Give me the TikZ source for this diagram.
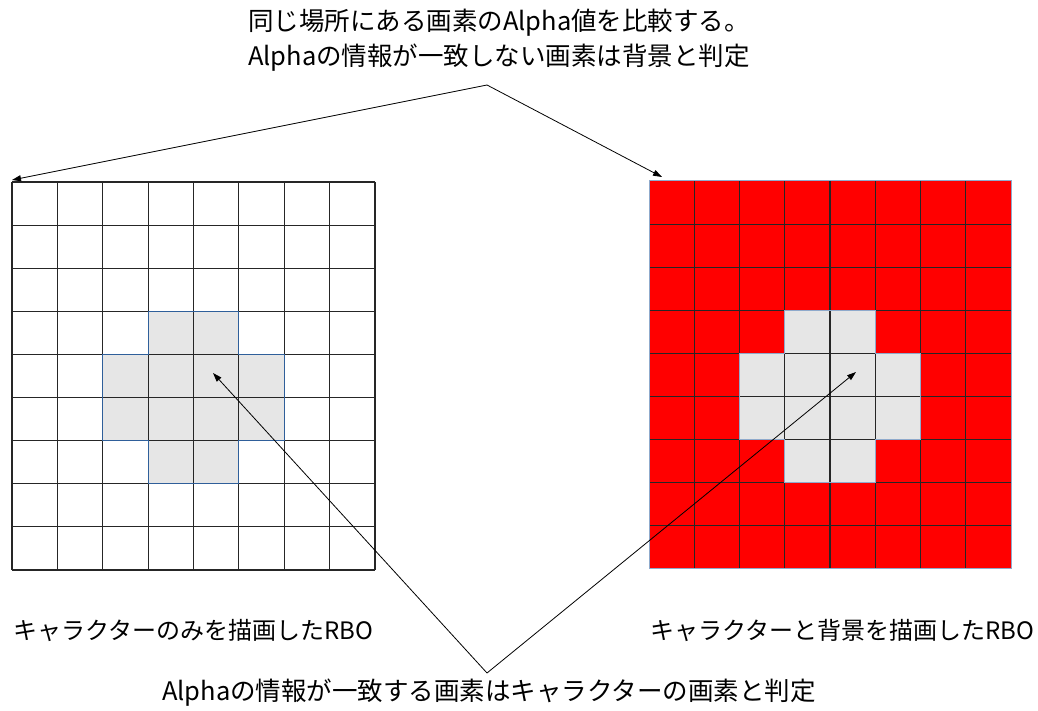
\documentclass[tikz,border=0pt]{standalone}
\usepackage{fontspec}
\setmainfont{Noto Sans CJK JP}
\usetikzlibrary{arrows.meta}
\definecolor{crossgray}{HTML}{E6E6E6}
\definecolor{crossblue}{HTML}{2F5F9A}
\definecolor{lightblue}{HTML}{8FAACC}
\definecolor{pixred}{HTML}{FF0000}
\begin{document}
\begin{tikzpicture}[x=1pt,y=-1pt,
  lbl/.style={font=\fontsize{25.5}{35}\selectfont, inner sep=0pt, align=center},
  sidelbl/.style={font=\fontsize{24}{30}\selectfont, inner sep=0pt},
  conn/.style={draw=black, line width=0.8pt, -{Triangle[length=9pt,width=6pt]}},
  gridline/.style={draw=black!85, line width=1.1pt},
  crossfill/.style={fill=crossgray},
  crosspath/.style={line width=1pt}]
\useasboundingbox (0,0) rectangle (1038,711);

% left grid: character only
\begin{scope}[shift={(12,182)}, x=45.375pt, y=-43.11pt]
  \fill[crossfill] (3,3) -- (5,3) -- (5,4) -- (6,4) -- (6,6) -- (5,6) -- (5,7) -- (3,7) -- (3,6) -- (2,6) -- (2,4) -- (3,4) -- cycle;
  \foreach \i in {0,...,8} \draw[gridline] (\i,0) -- (\i,9);
  \foreach \j in {0,...,9} \draw[gridline] (0,\j) -- (8,\j);
  \draw[crosspath, draw=crossblue] (3,3) -- (5,3) -- (5,4) -- (6,4) -- (6,6) -- (5,6) -- (5,7) -- (3,7) -- (3,6) -- (2,6) -- (2,4) -- (3,4) -- cycle;
\end{scope}

% right grid: character and background
\begin{scope}[shift={(649,181)}, x=45.25pt, y=-43.1pt]
  \fill[pixred] (0,0) rectangle (8,9);
  \fill[crossfill] (3,3) -- (5,3) -- (5,4) -- (6,4) -- (6,6) -- (5,6) -- (5,7) -- (3,7) -- (3,6) -- (2,6) -- (2,4) -- (3,4) -- cycle;
  \foreach \i in {1,...,7} \draw[gridline] (\i,0) -- (\i,9);
  \foreach \j in {1,...,8} \draw[gridline] (0,\j) -- (8,\j);
  \draw[crosspath, draw=lightblue] (3,3) -- (5,3) -- (5,4) -- (6,4) -- (6,6) -- (5,6) -- (5,7) -- (3,7) -- (3,6) -- (2,6) -- (2,4) -- (3,4) -- cycle;
  \draw[line width=1pt, draw=lightblue] (0,0) rectangle (8,9);
\end{scope}

% texts
\node[lbl] (toptext) at (499,40) {同じ場所にある画素のAlpha値を比較する。\\Alphaの情報が一致しない画素は背景と判定};
\node[sidelbl] (leftlbl) at (193,630) {キャラクターのみを描画したRBO};
\node[sidelbl] (rightlbl) at (842,630) {キャラクターと背景を描画したRBO};
\node[lbl] (bottext) at (489,693) {Alphaの情報が一致する画素はキャラクターの画素と判定};

% connector points
\coordinate (topapex) at (487,85);
\coordinate (botapex) at (487,673);
\coordinate (Ltip) at (12,180);
\coordinate (Rtip) at (662,177);
\coordinate (Lcross) at (213,373);
\coordinate (Rcross) at (856,372);

\draw[conn] (topapex) -- (Ltip);
\draw[conn] (topapex) -- (Rtip);
\draw[conn] (botapex) -- (Lcross);
\draw[conn] (botapex) -- (Rcross);
\end{tikzpicture}
\end{document}
